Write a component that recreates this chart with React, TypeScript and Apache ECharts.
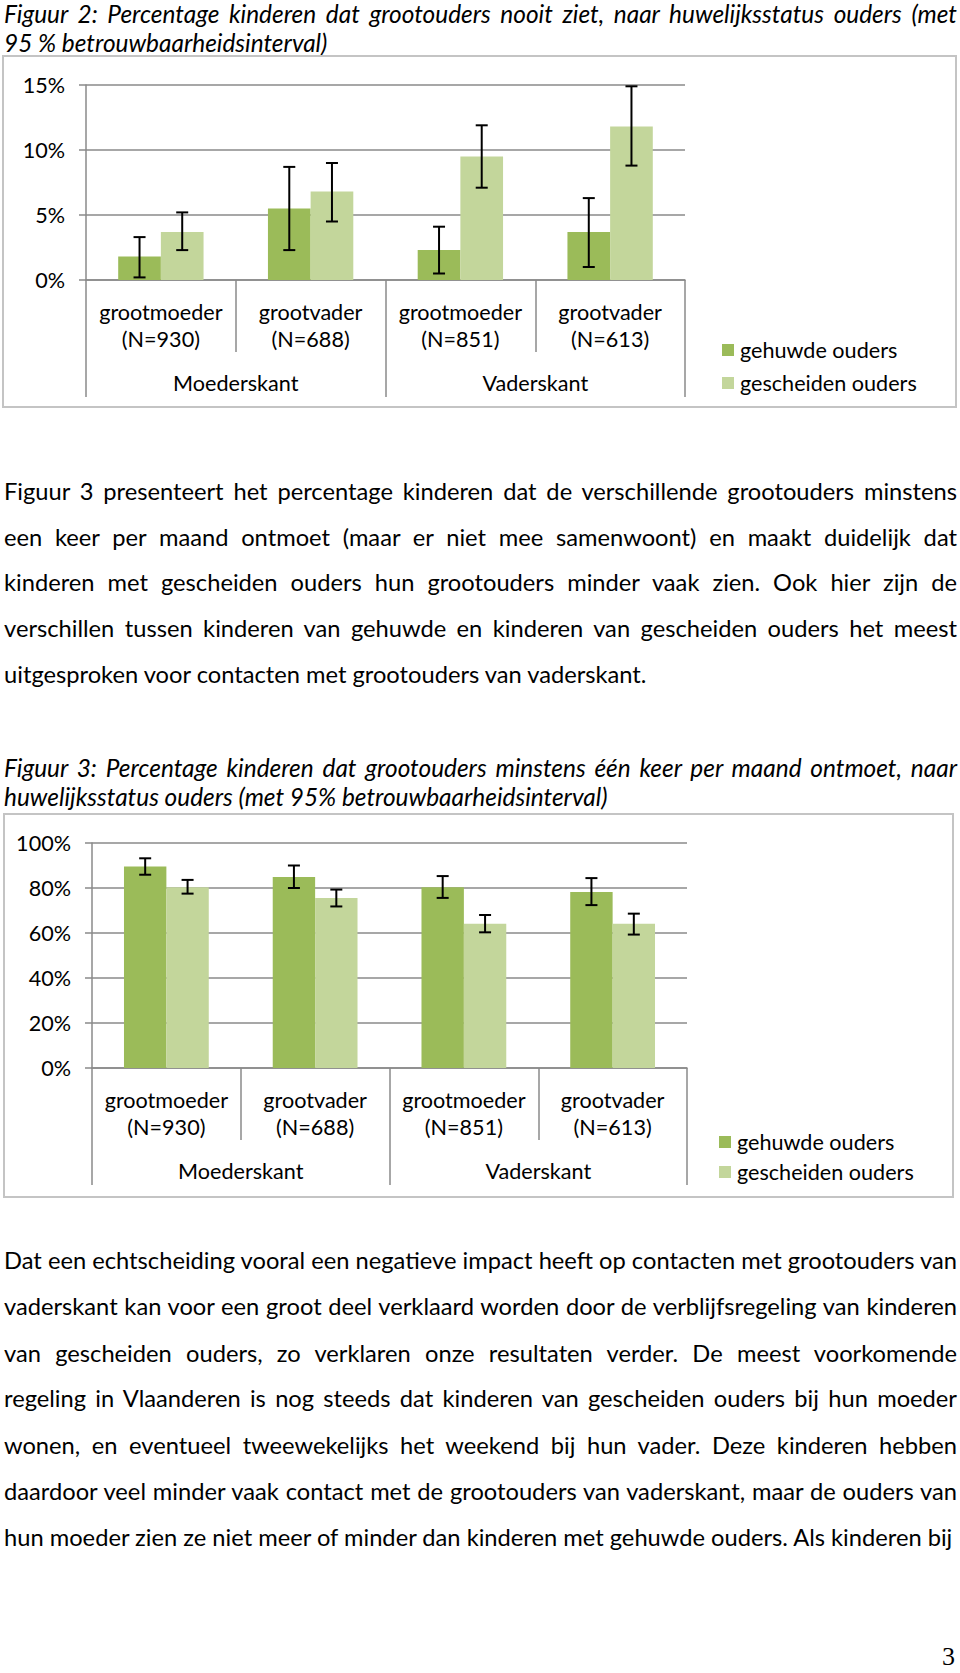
import React, { useEffect, useRef } from 'react';
import * as echarts from 'echarts';

// ---------- data ----------
const categories = ['grootmoeder\n(N=930)', 'grootvader\n(N=688)', 'grootmoeder\n(N=851)', 'grootvader\n(N=613)'];
const sides = ['Moederskant', 'Vaderskant'];
const seriesNames = ['gehuwde ouders', 'gescheiden ouders'];

// Figuur 2: nooit
const nooitGehuwd = [1.8, 5.5, 2.3, 3.7];
const nooitGescheiden = [3.7, 6.8, 9.5, 11.8];
const nooitGehuwdLow = [0.2, 2.3, 0.5, 1.0];
const nooitGehuwdHigh = [3.3, 8.7, 4.1, 6.3];
const nooitGescheidenLow = [2.3, 4.5, 7.1, 8.8];
const nooitGescheidenHigh = [5.2, 9.0, 11.9, 14.9];

// Figuur 3: minstens een keer per maand
const maandGehuwd = [89.6, 84.9, 80.3, 78.2];
const maandGescheiden = [80.3, 75.6, 64.1, 64.1];
const maandGehuwdLow = [85.9, 80.0, 75.6, 72.4];
const maandGehuwdHigh = [93.2, 90.0, 85.3, 84.4];
const maandGescheidenLow = [77.5, 71.8, 60.3, 59.3];
const maandGescheidenHigh = [83.6, 79.3, 68.0, 68.6];

const fig2Title = [
  'Figuur 2: Percentage kinderen dat grootouders nooit ziet, naar huwelijksstatus ouders (met',
  '95 % betrouwbaarheidsinterval)',
];
const fig3Title = [
  'Figuur 3: Percentage kinderen dat grootouders minstens één keer per maand ontmoet, naar',
  'huwelijksstatus ouders (met 95% betrouwbaarheidsinterval)',
];
const para1 = [
  'Figuur 3 presenteert het percentage kinderen dat de verschillende grootouders minstens',
  'een keer per maand ontmoet (maar er niet mee samenwoont) en maakt duidelijk dat',
  'kinderen met gescheiden ouders hun grootouders minder vaak  zien. Ook hier zijn de',
  'verschillen tussen kinderen van gehuwde en kinderen van gescheiden ouders het meest',
  'uitgesproken voor contacten met grootouders van vaderskant.',
];
const para2 = [
  'Dat een echtscheiding vooral een negatieve impact heeft op contacten met grootouders van',
  'vaderskant kan voor een groot deel verklaard worden door de verblijfsregeling van kinderen',
  'van gescheiden ouders, zo verklaren onze resultaten verder. De meest voorkomende',
  'regeling in Vlaanderen is nog steeds dat kinderen van gescheiden ouders bij hun moeder',
  'wonen, en eventueel tweewekelijks het weekend bij hun vader. Deze kinderen hebben',
  'daardoor veel minder vaak contact met de grootouders van vaderskant, maar de ouders van',
  'hun moeder zien ze niet meer of minder dan kinderen met gehuwde ouders. Als kinderen bij',
];

// ---------- styling ----------
const DARK = '#9BBB59';
const LIGHT = '#C3D69B';
const GRID = '#8a8a8a';
const BOX = '#c4c4c4';
const FONT = 'Lato';
const GAP = 0.43;
const LABEL_SIZE = 21.6;

function errorSeries(lows: number[], highs: number[], sign: number) {
  return {
    type: 'custom',
    xAxisIndex: 0,
    yAxisIndex: 0,
    z: 10,
    silent: true,
    data: lows.map((lo, i) => [i, lo, highs[i]]),
    encode: { x: 0, y: [1, 2] },
    renderItem: (params: any, api: any) => {
      const i = api.value(0);
      const lo = api.value(1);
      const hi = api.value(2);
      const band = api.size([1, 0])[0];
      const barW = (band * (1 - GAP)) / 2;
      const x = api.coord([i, 0])[0] + (sign * barW) / 2;
      const yT = api.coord([i, hi])[1];
      const yB = api.coord([i, lo])[1];
      const cap = 6;
      const style = { stroke: '#000', lineWidth: 2 };
      return {
        type: 'group',
        children: [
          { type: 'line', shape: { x1: x, y1: yT, x2: x, y2: yB }, style },
          { type: 'line', shape: { x1: x - cap, y1: yT, x2: x + cap, y2: yT }, style },
          { type: 'line', shape: { x1: x - cap, y1: yB, x2: x + cap, y2: yB }, style },
        ],
      };
    },
  };
}

function makeOption(cfg: any) {
  return {
    animation: false,
    textStyle: { fontFamily: FONT, color: '#000' },
    graphic: [
      {
        type: 'rect',
        shape: cfg.box,
        style: { fill: 'none', stroke: BOX, lineWidth: 2 },
        silent: true,
      },
    ],
    legend: {
      data: seriesNames,
      orient: 'vertical',
      left: cfg.legendLeft,
      top: cfg.legendTop,
      padding: 0,
      itemGap: cfg.legendGap,
      itemWidth: 12,
      itemHeight: 12,
      icon: 'rect',
      selectedMode: false,
      textStyle: { fontFamily: FONT, fontSize: LABEL_SIZE, color: '#000', lineHeight: 22, padding: [0, 0, 0, 1] },
    },
    grid: cfg.grid,
    xAxis: [
      {
        type: 'category',
        data: categories,
        axisLine: { lineStyle: { color: GRID, width: 1.5 } },
        axisTick: { show: true, length: 72, interval: 0, lineStyle: { color: GRID, width: 1.5 } },
        axisLabel: {
          interval: 0,
          fontFamily: FONT,
          fontSize: LABEL_SIZE,
          lineHeight: 27,
          margin: 18,
          color: '#000',
          align: 'center',
        },
        splitLine: { show: false },
      },
      {
        type: 'category',
        data: sides,
        position: 'bottom',
        offset: 72,
        axisLine: { show: false },
        axisTick: { show: true, length: 45, interval: 0, lineStyle: { color: GRID, width: 1.5 } },
        axisLabel: { interval: 0, fontFamily: FONT, fontSize: LABEL_SIZE, lineHeight: 22, margin: 20, color: '#000' },
      },
    ],
    yAxis: {
      type: 'value',
      min: cfg.yMin,
      max: cfg.yMax,
      interval: cfg.yInterval,
      axisLine: { show: true, lineStyle: { color: GRID, width: 1.5 } },
      axisTick: { show: true, length: 7, lineStyle: { color: GRID, width: 1.5 } },
      splitLine: { show: true, lineStyle: { color: GRID, width: 1.5 } },
      axisLabel: { formatter: '{value}%', fontFamily: FONT, fontSize: LABEL_SIZE, margin: 21, color: '#000' },
    },
    series: [
      {
        name: seriesNames[0],
        type: 'bar',
        data: cfg.a,
        itemStyle: { color: DARK },
        barGap: '0%',
        barCategoryGap: '43%',
      },
      {
        name: seriesNames[1],
        type: 'bar',
        data: cfg.b,
        itemStyle: { color: LIGHT },
        barGap: '0%',
        barCategoryGap: '43%',
      },
      errorSeries(cfg.aLow, cfg.aHigh, -1),
      errorSeries(cfg.bLow, cfg.bHigh, 1),
    ],
  };
}

function Chart({ top, height, cfg }: { top: number; height: number; cfg: any }) {
  const ref = useRef<HTMLDivElement>(null);
  useEffect(() => {
    if (!ref.current) return;
    const chart = echarts.init(ref.current, undefined, { renderer: 'svg' });
    chart.setOption(makeOption(cfg));
    return () => chart.dispose();
  }, []);
  return <div ref={ref} style={{ position: 'absolute', left: 0, top, width: 960, height }} />;
}

function TextLines({ lines, centers, italic, size }: { lines: string[]; centers: number[]; italic?: boolean; size: number }) {
  return (
    <>
      {lines.map((t, i) => (
        <div
          key={i}
          style={{
            position: 'absolute',
            left: 4,
            width: 953,
            top: centers[i] - 15,
            height: 30,
            lineHeight: '30px',
            fontFamily: FONT,
            fontSize: size,
            fontStyle: italic ? 'italic' : 'normal',
            color: '#000',
            textAlign: 'justify',
            textAlignLast: i < lines.length - 1 ? 'justify' : 'left',
            whiteSpace: 'normal',
            overflow: 'visible',
          } as any}
        >
          {t}
        </div>
      ))}
    </>
  );
}

export default function App() {
  const cfg2 = {
    box: { x: 3, y: 6, width: 953, height: 351 },
    grid: { left: 86, right: 275, top: 35, bottom: 140 },
    legendLeft: 722,
    legendTop: 289,
    legendGap: 11,
    yMin: 0,
    yMax: 15,
    yInterval: 5,
    a: nooitGehuwd,
    b: nooitGescheiden,
    aLow: nooitGehuwdLow,
    aHigh: nooitGehuwdHigh,
    bLow: nooitGescheidenLow,
    bHigh: nooitGescheidenHigh,
  };
  const cfg3 = {
    box: { x: 4, y: 9, width: 949, height: 383 },
    grid: { left: 92, right: 273, top: 38, bottom: 137 },
    legendLeft: 719,
    legendTop: 326,
    legendGap: 8,
    yMin: 0,
    yMax: 100,
    yInterval: 20,
    a: maandGehuwd,
    b: maandGescheiden,
    aLow: maandGehuwdLow,
    aHigh: maandGehuwdHigh,
    bLow: maandGescheidenLow,
    bHigh: maandGescheidenHigh,
  };
  return (
    <div style={{ position: 'absolute', left: 0, top: 0, width: 960, height: 1673, background: '#fff', overflow: 'hidden' }}>
      <TextLines lines={fig2Title} centers={[14, 43]} italic size={24.4} />
      <Chart top={50} height={370} cfg={cfg2} />
      <TextLines lines={para1} centers={[491, 536.5, 582.4, 628.3, 674.1]} size={23.7} />
      <TextLines lines={fig3Title} centers={[768, 797]} italic size={24.4} />
      <Chart top={805} height={400} cfg={cfg3} />
      <TextLines lines={para2} centers={[1259.7, 1305.6, 1352.5, 1398.4, 1445.3, 1491.2, 1537]} size={23.7} />
      <div
        style={{
          position: 'absolute',
          right: 5,
          top: 1644,
          height: 26,
          lineHeight: '26px',
          fontFamily: '"Liberation Serif", serif',
          fontSize: 26,
          color: '#000',
        }}
      >
        3
      </div>
    </div>
  );
}
